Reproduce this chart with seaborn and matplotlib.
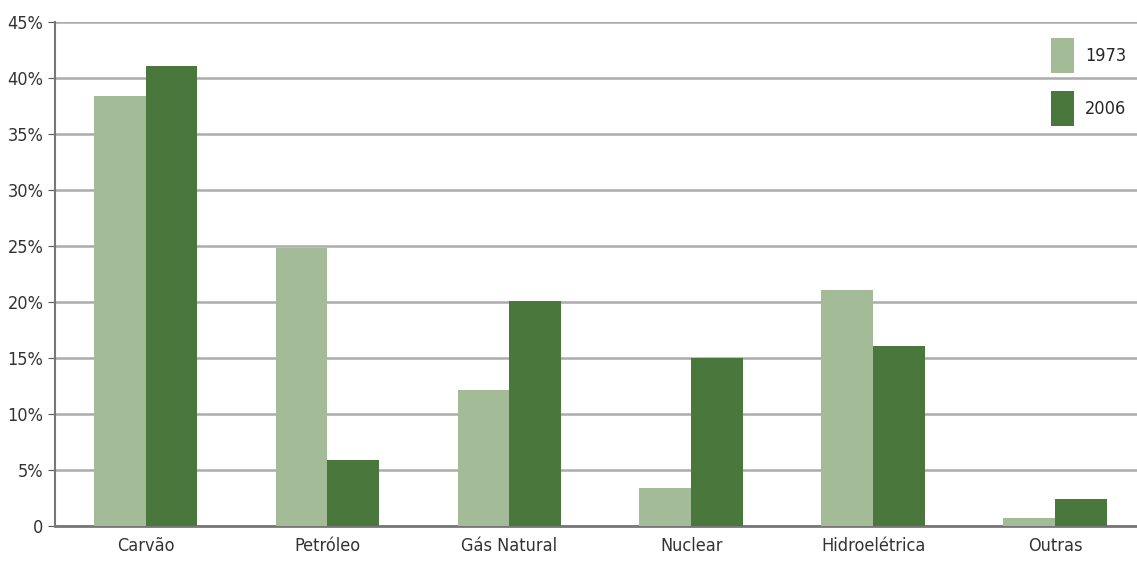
import pandas as pd
import seaborn as sns
import matplotlib.pyplot as plt
from matplotlib.ticker import FixedLocator

fontes = ['Carvão', 'Petróleo', 'Gás Natural', 'Nuclear', 'Hidroelétrica', 'Outras']
v1973 = [38.4, 24.8, 12.1, 3.4, 21.1, 0.7]
v2006 = [41.1, 5.9, 20.1, 15.0, 16.1, 2.4]
anos = ['1973', '2006']
ytick_labels = ['0', '5%', '10%', '15%', '20%', '25%', '30%', '35%', '40%', '45%']

df = pd.DataFrame({'fonte': fontes * 2,
                   'ano': [anos[0]] * len(fontes) + [anos[1]] * len(fontes),
                   'valor': v1973 + v2006})

sns.set_style('white')
plt.rcParams['font.family'] = ['DejaVu Sans']
plt.rcParams['font.stretch'] = 'condensed'

fig = plt.figure(figsize=(11.37, 5.63), dpi=100)
ax = fig.add_axes([0.048, 0.066, 0.952, 0.895])

sns.barplot(data=df, x='fonte', y='valor', hue='ano',
            palette=['#a3bb96', '#4a773c'], width=0.57, gap=0,
            saturation=1, linewidth=0, ax=ax, zorder=3)

ax.set_xlim(-0.5, 5.45)
ax.set_ylim(0, 45)
ax.set_yticks(range(0, 50, 5))
ax.set_yticklabels(ytick_labels, fontsize=13, color='#333333')
ax.tick_params(axis='x', length=0, labelsize=13, labelcolor='#333333', pad=8)
ax.xaxis.set_minor_locator(FixedLocator([0.5, 1.5, 2.5, 3.5, 4.5]))
ax.tick_params(axis='x', which='minor', length=4, color='#555555', direction='out')
ax.tick_params(axis='y', length=5, color='#555555', direction='out', left=True, pad=3)
ax.grid(axis='y', color='#ababab', linewidth=1.8, zorder=0)
ax.set_axisbelow(True)
ax.set_xlabel('')
ax.set_ylabel('')
for s in ['top', 'right']:
    ax.spines[s].set_visible(False)
ax.spines['left'].set_color('#777777')
ax.spines['left'].set_linewidth(1.5)
ax.spines['bottom'].set_color('#777777')
ax.spines['bottom'].set_linewidth(2)

ax.legend(title=None, loc='upper right', bbox_to_anchor=(1.005, 1.0),
          frameon=False, fontsize=13, handlelength=1.3, handleheight=2.6,
          labelspacing=1.0, handletextpad=0.6)

plt.savefig('out.png', dpi=100)
